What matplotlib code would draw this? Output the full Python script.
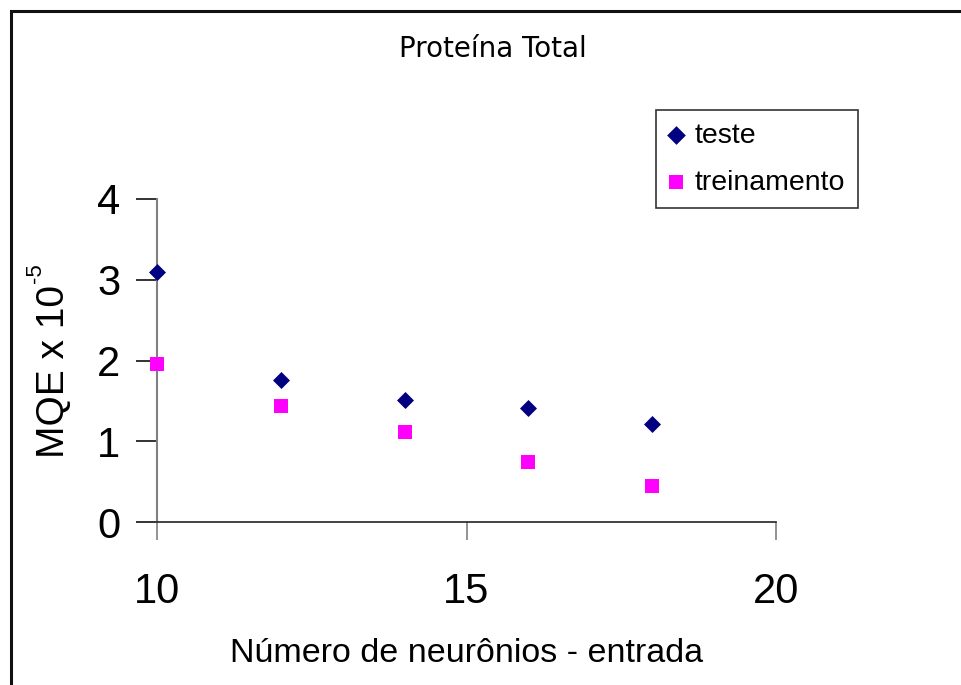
import matplotlib
matplotlib.use("Agg")
import matplotlib.pyplot as plt
from matplotlib.patches import Rectangle

# Mean squared error (x 10^-5) versus number of input neurons
neurons = [10, 12, 14, 16, 18]
teste = [3.09, 1.76, 1.51, 1.41, 1.21]
treinamento = [1.96, 1.44, 1.12, 0.74, 0.45]

x_ticks = [10, 15, 20]
y_ticks = [0, 1, 2, 3, 4]

plt.rcParams['font.family'] = ['Liberation Sans', 'DejaVu Sans']

fig = plt.figure(figsize=(9.61, 6.85), dpi=100)
fig.patch.set_facecolor('white')

# Chart frame (only top and left edges fall inside the canvas)
fig.patches.append(Rectangle((10.5 / 961, -0.5), 2.0, 1.5 - 10.5 / 685,
                             transform=fig.transFigure, fill=False,
                             edgecolor='#111111', linewidth=2.2, zorder=0))

ax = fig.add_axes([157 / 961, 1 - 522 / 685, (776 - 157) / 961, (522 - 199) / 685])
ax.set_facecolor('none')

ax.scatter(neurons, teste, marker='D', s=75, color='#000080', label='teste',
           zorder=3, clip_on=False, linewidths=0)
ax.scatter(neurons, treinamento, marker='s', s=90, color='#FF00FF',
           label='treinamento', zorder=3, clip_on=False, linewidths=0)

ax.set_xlim(10, 20)
ax.set_ylim(0, 4)
ax.set_xticks(x_ticks)
ax.set_yticks(y_ticks)

for side in ('top', 'right'):
    ax.spines[side].set_visible(False)
ax.spines['left'].set_color('#808080')
ax.spines['left'].set_linewidth(1.5)
ax.spines['bottom'].set_color('#222222')
ax.spines['bottom'].set_linewidth(1.2)

ax.tick_params(axis='x', direction='out', length=13, width=1.2, color='#808080',
               labelsize=30, pad=23)
ax.tick_params(axis='y', direction='out', length=15, width=1.2, color='#111111',
               labelsize=30, pad=11.5)

ax.set_xlabel('Número de neurônios - entrada', fontsize=24.5, labelpad=19)

# Y axis title with a hyphen superscript
ylab = fig.text(54 / 961, 1 - 371 / 685, 'MQE x 10', rotation=90,
                ha='center', va='center', fontsize=28)
ax.annotate('-5', xy=(0, 1), xycoords=ylab, xytext=(-8, 1),
            textcoords='offset points', rotation=90, ha='left', va='bottom',
            fontsize=16)

fig.text(493 / 961, 1 - 49 / 685, 'Proteína Total', ha='center', va='center',
         fontsize=20, family=['DejaVu Sans'])

leg = ax.legend(loc='upper left', bbox_to_anchor=(656 / 961, 1 - 110 / 685),
                bbox_transform=fig.transFigure, fontsize=20.5, frameon=True,
                fancybox=False, edgecolor='black', handletextpad=0.4,
                borderpad=0.45, labelspacing=0.73, handlelength=0.5,
                scatterpoints=1, borderaxespad=0, markerscale=1.1)
leg.get_frame().set_linewidth(1.2)

fig.savefig('out.png', dpi=100, facecolor='white')
